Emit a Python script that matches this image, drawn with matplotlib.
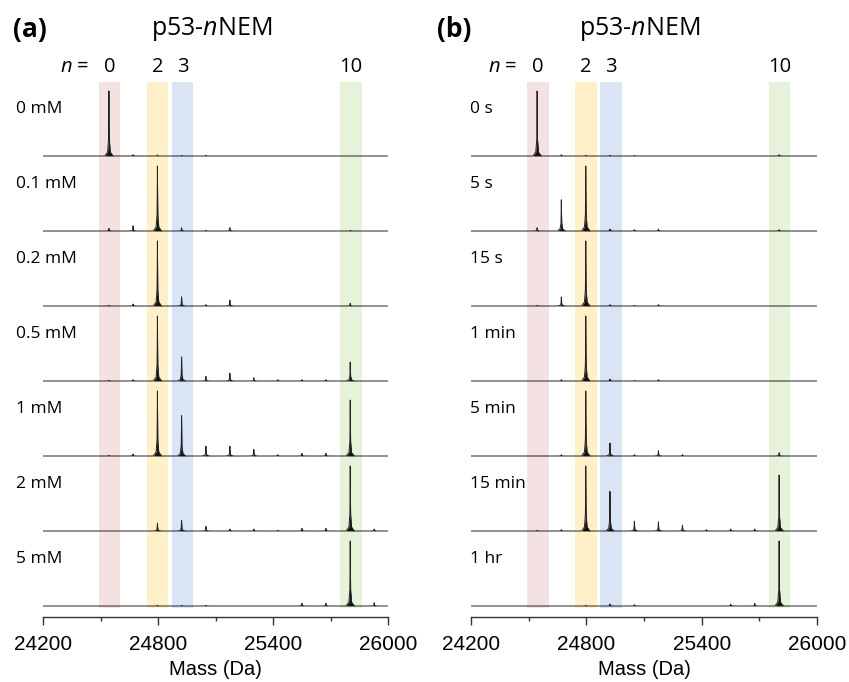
import matplotlib
matplotlib.use("Agg")
import matplotlib.pyplot as plt
import numpy as np

plt.rcParams["font.family"] = ["Open Sans", "DejaVu Sans"]
plt.rcParams["mathtext.fontset"] = "custom"
plt.rcParams["mathtext.rm"] = "Open Sans"
plt.rcParams["mathtext.it"] = "Open Sans:italic"

# Peak masses for n = 0..11 NEM adducts (Da)
peak_mass = [24544, 24670, 24797, 24923, 25050, 25175, 25300, 25425, 25551, 25676, 25803, 25928]

# highlighted species
band_n = ["0", "2", "3", "10"]
band_center = [24548, 24797, 24928, 25806]
band_colors = ["#f4e1e1", "#fff0c9", "#d9e5f5", "#e6f2da"]

# (a) NEM concentration series, relative peak heights for n = 0..11
conc_labels = ["0 mM", "0.1 mM", "0.2 mM", "0.5 mM", "1 mM", "2 mM", "5 mM"]
conc_heights = [
    [1.0, 0.02, 0.015, 0.01, 0.01, 0, 0, 0, 0, 0, 0, 0],
    [0.04, 0.08, 1.0, 0.05, 0.01, 0.05, 0, 0, 0, 0, 0.01, 0],
    [0.01, 0.03, 1.0, 0.14, 0.02, 0.09, 0, 0, 0, 0, 0.04, 0],
    [0.01, 0.02, 1.0, 0.37, 0.07, 0.12, 0.05, 0.02, 0.02, 0.02, 0.29, 0],
    [0.01, 0.03, 1.0, 0.62, 0.15, 0.15, 0.10, 0.02, 0.04, 0.04, 0.86, 0],
    [0, 0, 0.12, 0.16, 0.07, 0.03, 0.03, 0.01, 0.04, 0.04, 1.0, 0.03],
    [0, 0, 0.01, 0.01, 0.01, 0, 0, 0, 0.04, 0.04, 1.0, 0.05],
]

# (b) time series
time_labels = ["0 s", "5 s", "15 s", "1 min", "5 min", "15 min", "1 hr"]
time_heights = [
    [1.0, 0.02, 0.01, 0.01, 0.01, 0, 0, 0, 0, 0, 0.02, 0],
    [0.05, 0.48, 1.0, 0.03, 0.02, 0.03, 0, 0, 0, 0, 0.02, 0],
    [0.01, 0.14, 1.0, 0.02, 0.01, 0.02, 0, 0, 0, 0, 0, 0],
    [0, 0.02, 1.0, 0.03, 0.01, 0.02, 0, 0, 0, 0, 0, 0],
    [0, 0.02, 1.0, 0.20, 0.02, 0.08, 0.02, 0, 0, 0, 0.05, 0],
    [0.01, 0.02, 1.0, 0.61, 0.15, 0.14, 0.09, 0.02, 0.03, 0.03, 0.86, 0],
    [0, 0, 0.01, 0.03, 0.02, 0, 0, 0, 0.03, 0.04, 1.0, 0],
]

# layout (pixel-like units inside each axes)
STEP = 75
SCALE = 65
XMIN, XMAX = 24200, 26000
shape_dx = [-22, -7, -2, -0.8, 0, 0.8, 2, 7, 22]
shape_fr = [0, 0.06, 0.25, 0.6, 1, 0.6, 0.25, 0.06, 0]


def trace_xy(heights):
    xs, ys = [XMIN], [0.0]
    for m, h in zip(peak_mass, heights):
        if h <= 0:
            continue
        for dx, fr in zip(shape_dx, shape_fr):
            xs.append(m + dx)
            ys.append(h * fr * SCALE)
    xs.append(XMAX)
    ys.append(0.0)
    return np.array(xs), np.array(ys)


def draw_panel(ax, labels, heights, label_x):
    ax.set_xlim(XMIN, XMAX)
    ax.set_ylim(-461, 74)
    bottom_band = -(len(labels) - 1) * STEP - 2
    for c, col in zip(band_center, band_colors):
        ax.fill_between([c - 56, c + 56], bottom_band, 74, color=col, lw=0, zorder=0)
    for i, (lab, hts) in enumerate(zip(labels, heights)):
        off = -i * STEP
        x, y = trace_xy(hts)
        ax.fill_between(x, off, off + y, color="#111111", lw=0, zorder=2)
        ax.plot(x, off + y, color="#222222", lw=0.7, zorder=3)
        ax.text(label_x, off + 47, lab, transform=ax.get_yaxis_transform(),
                fontsize=12.5, va="center", ha="left")
    for spine in ["left", "right", "top"]:
        ax.spines[spine].set_visible(False)
    ax.spines["bottom"].set_linewidth(1.0)
    ax.spines["bottom"].set_color("#333333")
    ax.set_yticks([])
    ax.set_xticks([24200, 24800, 25400, 26000])
    ax.set_xticks([24500, 25100, 25700], minor=True)
    ax.tick_params(axis="x", which="major", length=6, width=1.0, pad=7,
                   labelsize=15, color="#333333")
    ax.tick_params(axis="x", which="minor", length=3, width=1.0, color="#333333")
    for t in ax.get_xticklabels():
        t.set_fontfamily("Liberation Sans")
    ax.set_xlabel("Mass (Da)", fontsize=14.5, fontfamily="Liberation Sans", labelpad=4)
    # n labels over bands
    for nl, c in zip(band_n, band_center):
        ax.text(c, 89, nl, fontsize=14.5, ha="center", va="center", clip_on=False)
    ax.text(band_center[0] - 100, 89, "$\\mathit{n}$ = ", fontsize=14.5,
            ha="right", va="center", clip_on=False)


fig = plt.figure(figsize=(8.49, 6.82), dpi=100)
ax_a = fig.add_axes([43 / 849, 1 - 617 / 682, 345 / 849, 535 / 682])
ax_b = fig.add_axes([471 / 849, 1 - 617 / 682, 346 / 849, 535 / 682])

draw_panel(ax_a, conc_labels, conc_heights, -0.078)
draw_panel(ax_b, time_labels, time_heights, -0.003)

# panel letters and titles
H = 682.0
fig.text(13 / 849, 1 - 29 / H, "(a)", fontsize=19, fontweight="bold", ha="left", va="center")
fig.text(437 / 849, 1 - 29 / H, "(b)", fontsize=19, fontweight="bold", ha="left", va="center")
fig.text(212 / 849, 1 - 29 / H, "p53-$\\mathit{n}$NEM", fontsize=18, ha="center", va="center")
fig.text(640 / 849, 1 - 29 / H, "p53-$\\mathit{n}$NEM", fontsize=18, ha="center", va="center")

fig.savefig("out.png", dpi=100)
